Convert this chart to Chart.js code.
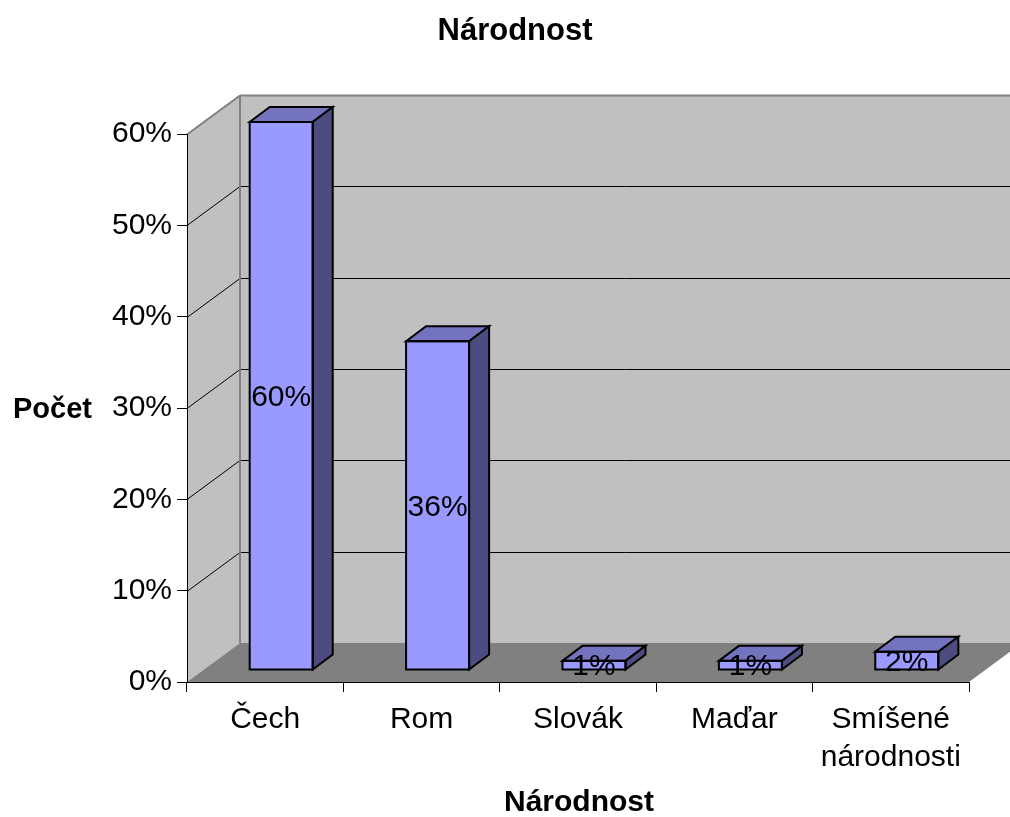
<!DOCTYPE html>
<html><head><meta charset="utf-8">
<script src="https://cdn.jsdelivr.net/npm/chart.js@4.4.1/dist/chart.umd.min.js"></script>
<style>html,body{margin:0;padding:0;background:#fff;}canvas{display:block;}</style>
</head><body>
<canvas id="c" width="1010" height="817"></canvas>
<script>
// ---- data ----
const categories = ['Čech', 'Rom', 'Slovák', 'Maďar', ['Smíšené', 'národnosti']];
const values = [60, 36, 1, 1, 2];
const valueLabels = ['60%', '36%', '1%', '1%', '2%'];
const yMin = 0, yMax = 60, yStep = 10;
const chartTitle = 'Národnost';
const xTitle = 'Národnost';
const yTitle = 'Počet';

// ---- style ----
const FONT = "'Liberation Sans', Arial, sans-serif";
const WALL = {dx: 53, dy: -39};
const BAR_SHIFT = {dx: 16, dy: -12};
const BAR_DEPTH = {dx: 20, dy: -15};

function poly(ctx, pts, fill, stroke, lw) {
  ctx.beginPath();
  ctx.moveTo(pts[0][0], pts[0][1]);
  for (let i = 1; i < pts.length; i++) ctx.lineTo(pts[i][0], pts[i][1]);
  ctx.closePath();
  if (fill) { ctx.fillStyle = fill; ctx.fill(); }
  if (stroke) { ctx.strokeStyle = stroke; ctx.lineWidth = lw || 1; ctx.stroke(); }
}
function line(ctx, x1, y1, x2, y2, color, lw) {
  ctx.beginPath(); ctx.moveTo(x1, y1); ctx.lineTo(x2, y2);
  ctx.strokeStyle = color; ctx.lineWidth = lw; ctx.stroke();
}

const threeD = {
  id: 'threeD',
  beforeDraw(chart) {
    const {ctx, chartArea: a, scales: {y}} = chart;
    const L = a.left, R = a.right, T = y.getPixelForValue(yMax), B = y.getPixelForValue(yMin);
    const dx = WALL.dx, dy = WALL.dy;
    ctx.save();
    poly(ctx, [[L+dx,T+dy],[R+dx,T+dy],[R+dx,B+dy],[L+dx,B+dy]], '#C0C0C0');
    poly(ctx, [[L,T],[L+dx,T+dy],[L+dx,B+dy],[L,B]], '#C0C0C0');
    poly(ctx, [[L,B],[L+dx,B+dy],[R+dx,B+dy],[R,B]], '#808080');
    for (let v = yMin + yStep; v < yMax; v += yStep) {
      const py = Math.round(y.getPixelForValue(v)) + 0.5;
      line(ctx, L, py, L+dx, py+dy, '#000', 1);
      line(ctx, L+dx, py+dy, R+dx, py+dy, '#000', 1);
    }
    const tp = Math.round(T) + 0.5;
    line(ctx, L, tp, L+dx, tp+dy, '#808080', 2);
    line(ctx, L+dx, tp+dy, R+dx, tp+dy, '#808080', 2);
    line(ctx, L+dx, tp+dy, L+dx, B+dy, '#808080', 2);
    ctx.restore();
  },
  beforeDatasetsDraw(chart) {
    chart.ctx.save();
    chart.ctx.translate(BAR_SHIFT.dx, BAR_SHIFT.dy);
  },
  afterDatasetsDraw(chart) {
    const ctx = chart.ctx;
    const meta = chart.getDatasetMeta(0);
    const ddx = BAR_DEPTH.dx, ddy = BAR_DEPTH.dy;
    ctx.lineJoin = 'miter';
    meta.data.forEach((bar) => {
      const l = bar.x - bar.width/2, r = bar.x + bar.width/2, t = bar.y, b = bar.base;
      poly(ctx, [[l,t],[r,t],[r+ddx,t+ddy],[l+ddx,t+ddy]], '#7373BF', '#000', 2);
      poly(ctx, [[r,t],[r+ddx,t+ddy],[r+ddx,b+ddy],[r,b]], '#4C4C80', '#000', 2);
      ctx.strokeStyle = '#000'; ctx.lineWidth = 2;
      ctx.strokeRect(l, t, r-l, b-t);
    });
    ctx.fillStyle = '#000';
    ctx.font = '30px ' + FONT;
    ctx.textAlign = 'center';
    ctx.textBaseline = 'middle';
    meta.data.forEach((bar, i) => {
      ctx.fillText(valueLabels[i], bar.x, (bar.y + bar.base)/2 + 2);
    });
    ctx.restore();
  },
  afterDraw(chart) {
    const ctx = chart.ctx;
    ctx.save();
    ctx.fillStyle = '#000';
    ctx.textBaseline = 'middle';
    ctx.textAlign = 'center';
    ctx.font = 'bold 31px ' + FONT;
    ctx.fillText(chartTitle, 515, 31);
    ctx.font = 'bold 30px ' + FONT;
    ctx.fillText(xTitle, 579, 803);
    ctx.font = 'bold 29px ' + FONT;
    ctx.textAlign = 'left';
    ctx.fillText(yTitle, 13, 410);
    ctx.restore();
  }
};

new Chart(document.getElementById('c'), {
  type: 'bar',
  data: {
    labels: categories,
    datasets: [{
      data: values,
      backgroundColor: '#9999FF',
      borderColor: '#000',
      borderWidth: 0,
      borderSkipped: false,
      barPercentage: 1,
      categoryPercentage: 0.403,
      clip: false
    }]
  },
  options: {
    responsive: false,
    devicePixelRatio: 1,
    animation: false,
    layout: {padding: {top: 134, right: 41, left: 0, bottom: 0}},
    plugins: {legend: {display: false}, title: {display: false}, tooltip: {enabled: false}},
    scales: {
      x: {
        grid: {display: true, drawOnChartArea: false, drawTicks: true, tickLength: 10, color: '#000', offset: true},
        border: {display: true, color: '#000', width: 1},
        ticks: {color: '#000', font: {family: FONT, size: 30, lineHeight: 1.25}, padding: 9, maxRotation: 0, autoSkip: false},
        afterFit(s) { s.height = 135; }
      },
      y: {
        min: yMin, max: yMax,
        grid: {display: true, drawOnChartArea: false, drawTicks: true, tickLength: 10, color: '#000'},
        border: {display: true, color: '#000', width: 1},
        ticks: {stepSize: yStep, color: '#000', font: {family: FONT, size: 30}, padding: 5, callback: v => v + '%'},
        afterFit(s) { s.width = 187; }
      }
    }
  },
  plugins: [threeD]
});
</script>
</body></html>
